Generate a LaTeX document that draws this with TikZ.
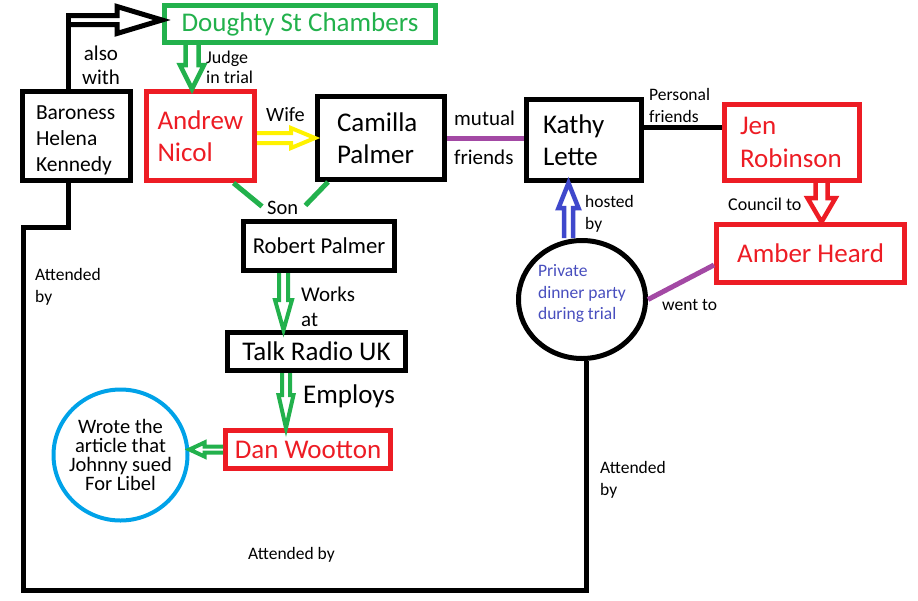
\documentclass[tikz,border=0pt]{standalone}
\usepackage{fontspec}
\setmainfont{Carlito}
\usepackage{tikz}
\usetikzlibrary{positioning}
\usetikzlibrary{shapes.geometric}
\usetikzlibrary{calc}
\usepackage{xcolor}
\definecolor{paintred}{RGB}{237, 28, 36}
\definecolor{paintgreen}{RGB}{34, 177, 76}
\definecolor{paintyellow}{RGB}{255, 242, 0}
\definecolor{paintblue}{RGB}{63, 72, 204}
\definecolor{paintpurple}{RGB}{163, 73, 164}
\definecolor{paintturquoise}{RGB}{0, 162, 232}
\definecolor{partytext}{RGB}{72, 78, 190}
% colour, from, to, shaft half width, head half width, head length
\newcommand{\hollowarrow}[6]{%
    \path (#2) coordinate (ha-s) (#3) coordinate (ha-e);
    \path ($(ha-e)!#6pt!(ha-s)$) coordinate (ha-b);
    \draw[line width=4pt, #1] ($(ha-s)!#4pt!90:(ha-e)$) -- ($(ha-b)!#4pt!90:(ha-e)$)
        -- ($(ha-b)!#5pt!90:(ha-e)$) -- (ha-e) -- ($(ha-b)!#5pt!-90:(ha-e)$)
        -- ($(ha-b)!#4pt!-90:(ha-e)$) -- ($(ha-s)!#4pt!-90:(ha-e)$);
}

\begin{document}
\begin{tikzpicture}[
            x=1pt, y=-1pt,
            box/.style={
                rectangle,
                draw=#1,
                text=#1,
                line width=5pt,
                inner sep=0pt
            },
            big/.style={font=\fontsize{27}{32.5}\selectfont},
            lbl/.style={inner sep=0pt, align=left, font=\fontsize{17.5}{22}\selectfont},
            midlbl/.style={inner sep=0pt, align=left, font=\fontsize{21}{25}\selectfont},
            link/.style={line width=5pt}
        ]
            \useasboundingbox (0,0) rectangle (918,600);

            % Nodes
            \node[box=paintgreen, big, minimum width=271pt, minimum height=37pt] (doughty) at (300,24) {Doughty St Chambers};

            \node[box=black, align=left, text width=81pt, text height=22pt, minimum width=108pt, minimum height=89pt,
                font=\fontsize{21.5}{26}\selectfont] (baroness) at (76.5,136) {Baroness\\Helena\\Kennedy};

            \node[box=paintred, big, align=left, text width=86pt, minimum width=108pt, minimum height=89pt] (andrew) at (200.5,136) {Andrew\\Nicol};

            \node[box=black, big, align=left, text width=88pt, minimum width=127pt, minimum height=83pt] (camilla) at (381,138) {Camilla\\Palmer};

            \node[box=black, big, align=left, text width=82pt, minimum width=115pt, minimum height=81pt] (kathy) at (584,140) {Kathy\\Lette};

            \node[box=paintred, big, align=left, text width=104pt, minimum width=135pt, minimum height=76pt] (jen) at (792,142.5) {Jen\\Robinson};

            \node[box=paintred, big, minimum width=188pt, minimum height=58pt] (amber) at (810.5,253.5) {Amber Heard};

            \node[box=black, font=\fontsize{22.7}{27}\selectfont, minimum width=151pt, minimum height=49pt] (robert) at (319,246) {Robert Palmer};

            \node[box=black, big, minimum width=178pt, minimum height=38pt] (talk) at (316.5,351.5) {Talk Radio UK};

            \node[box=paintred, big, minimum width=165pt, minimum height=38pt] (dan) at (308,449.5) {Dan Wootton};

            \node[ellipse, draw=black, line width=5pt, text=partytext, align=left, inner sep=0pt, text depth=15pt,
                minimum width=127pt, minimum height=118pt, font=\fontsize{17.5}{21.5}\selectfont] (party) at (582,299.5) {Private\\dinner party\\during trial};

            \node[ellipse, draw=paintturquoise, line width=4pt, align=center, inner xsep=-7pt, inner ysep=0pt,
                minimum width=134pt, minimum height=131pt, font=\fontsize{20.5}{19}\selectfont] (libel) at (120.5,455) {Wrote the\\article that\\Johnny sued\\For Libel};

            % Labels
            \node[midlbl, align=center, font=\fontsize{21}{24}\selectfont] (alsolbl) at (101,65) {also\\with};
            \node[lbl, anchor=west, font=\fontsize{18}{20}\selectfont] (judgelbl) at (206,67) {Judge\\in trial};
            \node[midlbl, anchor=base west, font=\fontsize{20.3}{24}\selectfont] (wifelbl) at (266,121) {Wife};
            \node[midlbl, anchor=base west, font=\fontsize{20.5}{24}\selectfont] (son) at (267,214) {Son};
            \node[midlbl, anchor=west] (workslbl) at (301,307) {Works\\at};
            \node[midlbl, anchor=base west, font=\fontsize{27}{32}\selectfont] (employslbl) at (303,403) {Employs};
            \node[midlbl, anchor=west, font=\fontsize{21}{39}\selectfont] (mutuallbl) at (454,138) {mutual\\friends};
            \node[lbl, anchor=west] (personallbl) at (649,105) {Personal\\friends};
            \node[lbl, anchor=base west, font=\fontsize{18}{22}\selectfont] (councillbl) at (728,210) {Council to};
            \node[lbl, anchor=west] (hostedlbl) at (585,213.5) {hosted\\by};
            \node[lbl, anchor=base west] (wentlbl) at (662,310) {went to};
            \node[lbl, anchor=west] (attleft) at (35,287) {Attended\\by};
            \node[lbl, anchor=west] (attright) at (600,479.5) {Attended\\by};
            \node[lbl, anchor=base west] (attbottom) at (248,559) {Attended by};

            % Lines
            \coordinate (alsocorner) at (68,20);
            \draw[link] (baroness.north -| alsocorner) -- ($(alsocorner)+(0,-7)$);
            \draw[link] ($(baroness.south)+(-8.5,0)$) -- ++(0,44) -| (23,590) -| ($(party.south)+(4,0)$);
            \draw[link, paintgreen] ($(andrew.south)+(33,0)$) -- ($(son.west)+(-5,-1)$);
            \draw[link, paintgreen] ($(camilla.south)+(-53,0)$) -- ($(son.east)+(7,-2)$);
            \draw[link, paintpurple] (camilla.east) -- (camilla.east -| kathy.west);
            \coordinate (personal) at ($(kathy.east)+(0,-13)$);
            \draw[link] (personal) -- (personal -| jen.west);
            \draw[link, paintpurple] ($(amber.west)+(0,11.5)$) -- (party.east);

            % Arrows
            \hollowarrow{black, line width=5pt}{alsocorner}{alsocorner -| doughty.west}{4.5}{13.5}{45}
            \coordinate (judgeline) at ($(andrew.north)+(-8.5,0)$);
            \hollowarrow{paintgreen, line width=4.5pt}{judgeline |- doughty.south}{judgeline}{6.5}{12}{24}
            \hollowarrow{paintyellow}{camilla.west -| andrew.east}{camilla.west}{5}{10}{24}
            \coordinate (worksline) at ($(robert.south)+(-35.5,0)$);
            \hollowarrow{paintgreen}{worksline}{worksline |- talk.north}{4.5}{8.5}{30}
            \coordinate (employsline) at ($(talk.south)+(-30.5,0)$);
            \hollowarrow{paintgreen}{employsline}{employsline |- dan.north}{4}{7.5}{33}
            \hollowarrow{paintgreen}{dan.west}{dan.west -| libel.east}{3}{7}{15}
            \coordinate (hostedline) at ($(kathy.south)+(-15.5,0)$);
            \hollowarrow{paintblue, line width=4.5pt}{hostedline |- party.north}{hostedline}{4.5}{10}{25}
            \coordinate (councilline) at ($(jen.south)+(29.5,0)$);
            \hollowarrow{paintred, line width=4.5pt}{councilline}{councilline |- amber.north}{6}{14}{24}
        \end{tikzpicture}
\end{document}
